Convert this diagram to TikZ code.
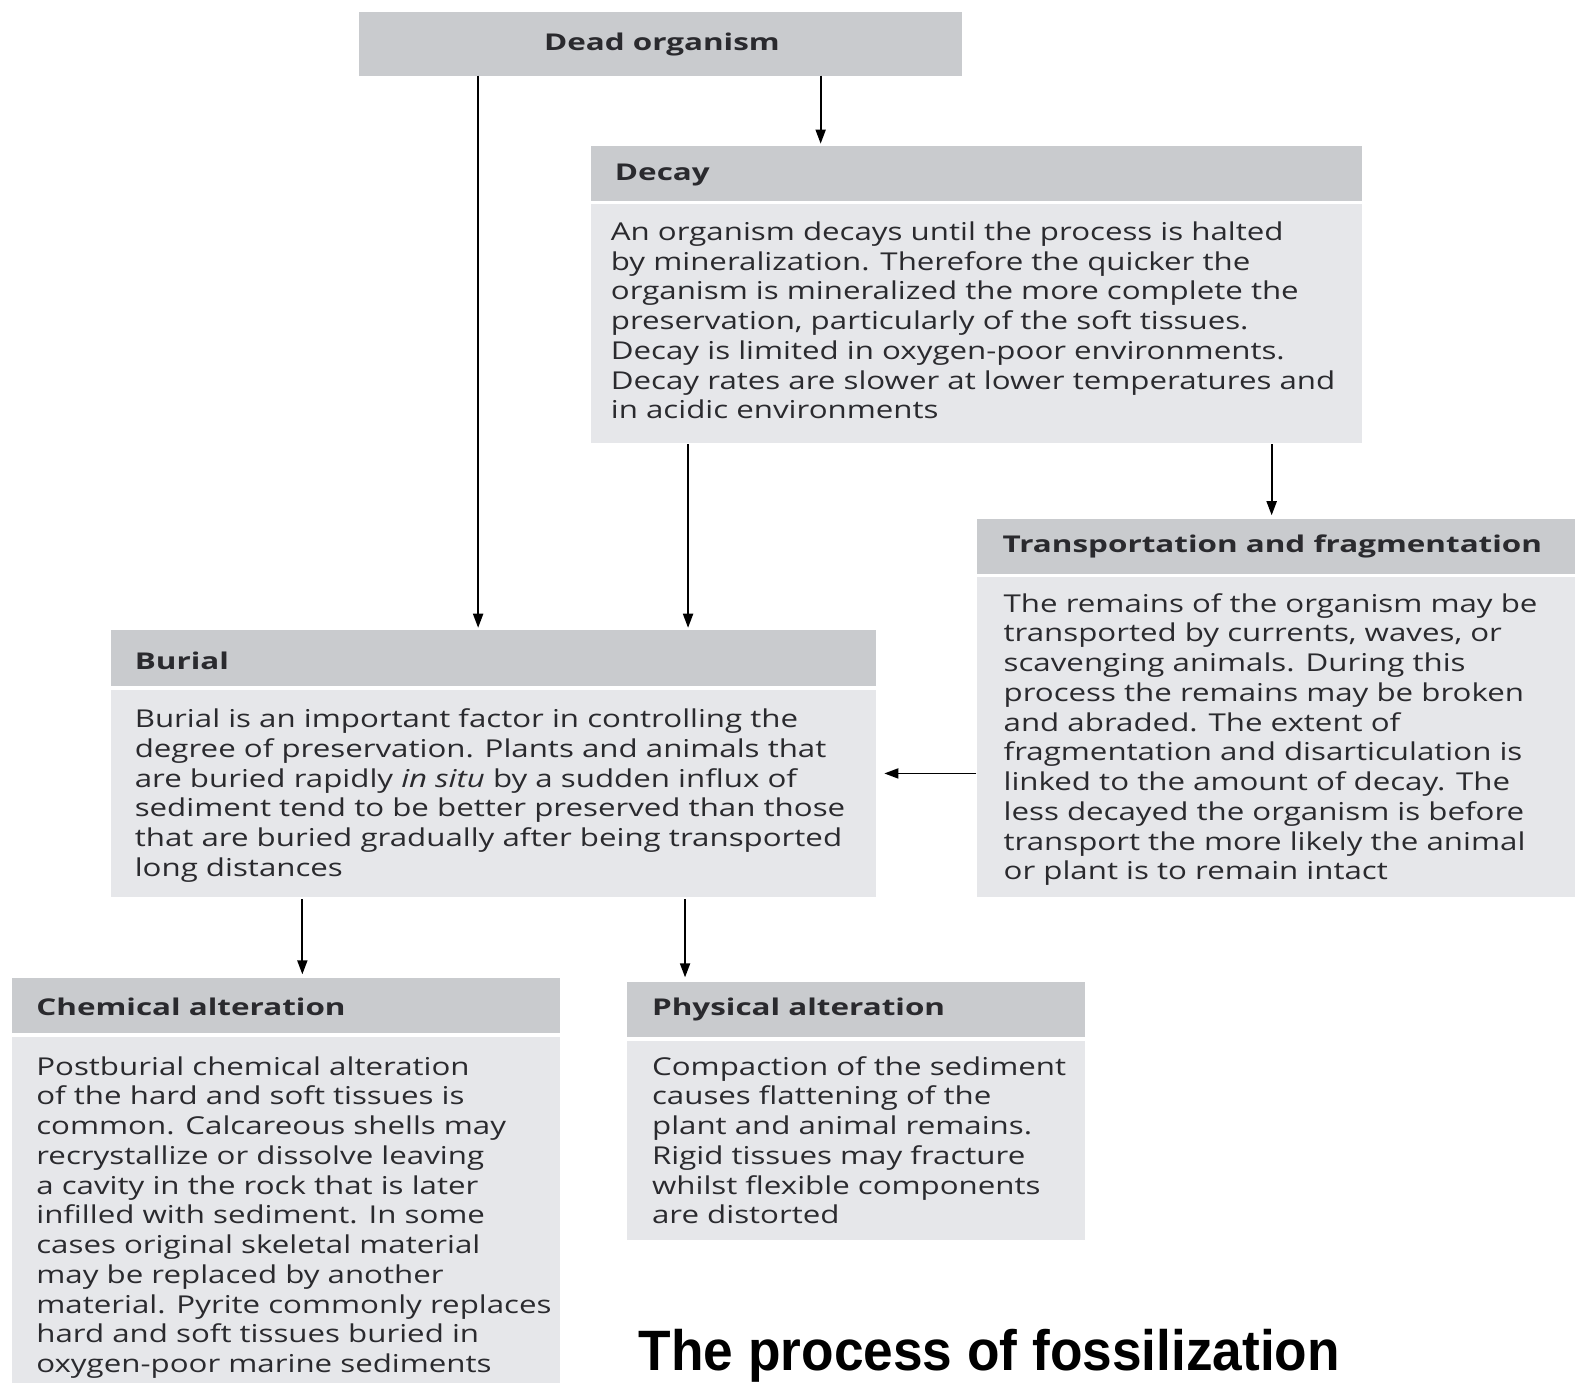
\documentclass[tikz,border=0pt]{standalone}
\usepackage{fontspec}
\setmainfont{Open Sans}
\newfontfamily\bodyfont{Open Sans}[FakeStretch=1.27]
\newfontfamily\headfont{Open Sans}[FakeStretch=1.36]
\newfontfamily\titlefont{Liberation Sans}
\usetikzlibrary{arrows.meta}
\definecolor{hdr}{HTML}{C9CBCE}
\definecolor{bdy}{HTML}{E6E7EA}
\definecolor{ink}{HTML}{2A2A2E}
\begin{document}
\begin{tikzpicture}[x=1pt,y=-1pt,
  hbox/.style={fill=hdr,draw=none,inner sep=0pt,anchor=north west},
  bbox/.style={fill=bdy,draw=none,inner sep=0pt,anchor=north west},
  htext/.style={inner sep=0pt,anchor=west,font=\headfont\bfseries\fontsize{23}{26}\selectfont,text=ink},
  btext/.style={inner sep=0pt,anchor=north west,align=left,font=\bodyfont\fontsize{24.5}{29.6}\selectfont,text=ink},
  arr/.style={line width=1.8pt,-{Triangle[length=14pt,width=10pt]}}]
\useasboundingbox (0,0) rectangle (1568,1377);
\fill[white] (0,0) rectangle (1568,1377);
% boxes
\node[hbox,minimum width=601pt,minimum height=63pt] (dead) at (357,12) {};
\node[htext,anchor=center] (deadt) at (659,44) {Dead organism};

\node[hbox,minimum width=768pt,minimum height=55pt] (decayh) at (588,145) {};
\node[htext] (decayht) at (612,174) {Decay};
\node[bbox,minimum width=768pt,minimum height=238pt] (decayb) at (588,203) {};
\node[btext] (decaybt) at (608,218.5) {\strut An organism decays until the process is halted\\by mineralization. Therefore the quicker the\\organism is mineralized the more complete the\\preservation, particularly of the soft tissues.\\Decay is limited in oxygen-poor environments.\\Decay rates are slower at lower temperatures and\\in acidic environments};

\node[hbox,minimum width=596pt,minimum height=55pt] (transh) at (972,516) {};
\node[htext] (transht) at (998,544) {Transportation and fragmentation};
\node[bbox,minimum width=596pt,minimum height=319pt] (transb) at (972,574) {};
\node[btext] (transbt) at (999,588.5) {\strut The remains of the organism may be\\transported by currents, waves, or\\scavenging animals. During this\\process the remains may be broken\\and abraded. The extent of\\fragmentation and disarticulation is\\linked to the amount of decay. The\\less decayed the organism is before\\transport the more likely the animal\\or plant is to remain intact};

\node[hbox,minimum width=762pt,minimum height=56pt] (burialh) at (110,627) {};
\node[htext] (burialht) at (134,658) {Burial};
\node[bbox,minimum width=762pt,minimum height=206pt] (burialb) at (110,687) {};
\node[btext] (burialbt) at (134,703.5) {\strut Burial is an important factor in controlling the\\degree of preservation. Plants and animals that\\are buried rapidly \emph{in situ} by a sudden influx of\\sediment tend to be better preserved than those\\that are buried gradually after being transported\\long distances};

\node[hbox,minimum width=545pt,minimum height=55pt] (chemh) at (12,973) {};
\node[htext] (chemht) at (36,1002) {Chemical alteration};
\node[bbox,minimum width=545pt,minimum height=345pt] (chemb) at (12,1032) {};
\node[btext] (chembt) at (36,1049.5) {\strut Postburial chemical alteration\\of the hard and soft tissues is\\common. Calcareous shells may\\recrystallize or dissolve leaving\\a cavity in the rock that is later\\infilled with sediment. In some\\cases original skeletal material\\may be replaced by another\\material. Pyrite commonly replaces\\hard and soft tissues buried in\\oxygen-poor marine sediments};

\node[hbox,minimum width=456pt,minimum height=55pt] (physh) at (624,977) {};
\node[htext] (physht) at (649,1005) {Physical alteration};
\node[bbox,minimum width=456pt,minimum height=198pt] (physb) at (624,1036) {};
\node[btext] (physbt) at (649,1049.5) {\strut Compaction of the sediment\\causes flattening of the\\plant and animal remains.\\Rigid tissues may fracture\\whilst flexible components\\are distorted};

\node[inner sep=0pt,font=\titlefont\bfseries\fontsize{53}{60}\selectfont] (title) at (985,1350) {\scalebox{1}[1.07]{The process of fossilization}};

% arrows
\draw[arr] ([xshift=119pt]dead.south west) -- ([xshift=366pt,yshift=2pt]burialh.north west);
\draw[arr] ([xshift=460pt]dead.south west) -- ([xshift=229pt,yshift=2pt]decayh.north west);
\draw[arr] ([xshift=97pt,yshift=-1pt]decayb.south west) -- ([xshift=575pt,yshift=2pt]burialh.north west);
\draw[arr] ([xshift=678pt,yshift=-1pt]decayb.south west) -- ([xshift=294pt,yshift=3pt]transh.north west);
\draw[arr] ([yshift=-196pt]transb.north west) -- ([xshift=8pt,yshift=-83pt]burialb.north east);
\draw[arr] ([xshift=191pt,yshift=-2pt]burialb.south west) -- ([xshift=289pt,yshift=3pt]chemh.north west);
\draw[arr] ([xshift=572pt,yshift=-2pt]burialb.south west) -- ([xshift=58pt,yshift=4pt]physh.north west);
\end{tikzpicture}
\end{document}
